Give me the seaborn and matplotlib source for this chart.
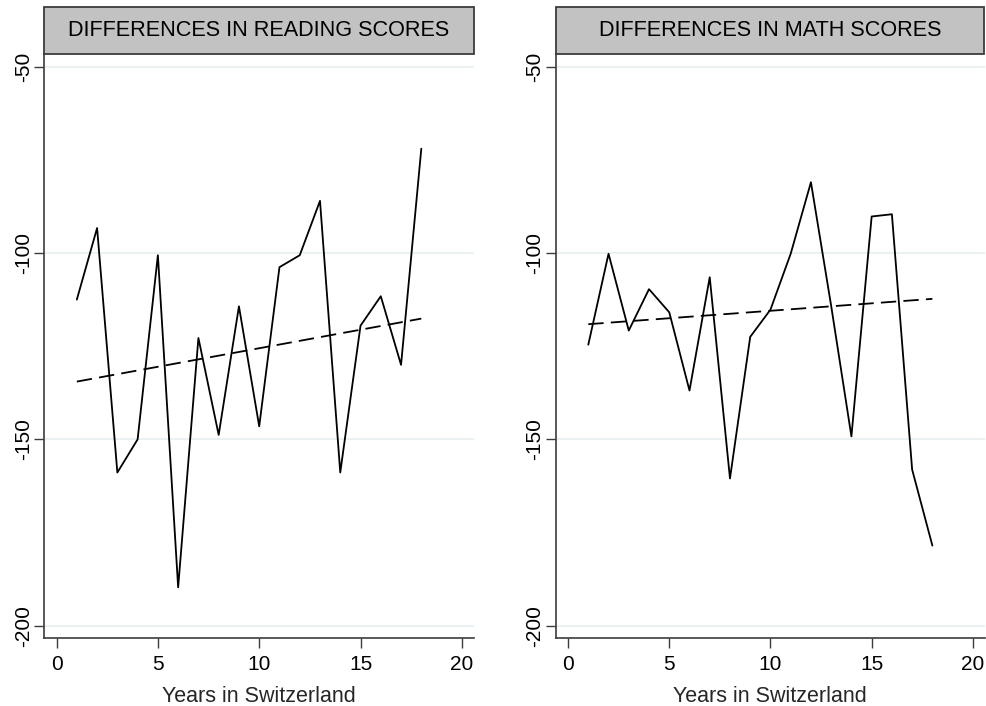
import matplotlib
matplotlib.use("Agg")
import matplotlib.pyplot as plt
import seaborn as sns
import pandas as pd
from matplotlib.patches import Rectangle

years = list(range(1, 19))
reading_diff = [-112.5, -93.3, -158.9, -150.0, -100.6, -189.7, -122.8, -148.8, -114.3,
                -146.5, -103.8, -100.6, -86.0, -158.9, -119.5, -111.6, -130.0, -72.0]
math_diff = [-124.6, -100.2, -120.8, -109.7, -115.9, -136.9, -106.5, -160.5, -122.5,
             -115.2, -100.2, -81.0, -114.2, -149.2, -90.2, -89.6, -158.1, -178.5]
fit_years = [1, 18]
reading_fit = [-134.5, -117.6]
math_fit = [-119.1, -112.3]
titles = ["DIFFERENCES IN READING SCORES", "DIFFERENCES IN MATH SCORES"]
x_ticks = [0, 5, 10, 15, 20]
y_ticks = [-200, -150, -100, -50]
x_label = "Years in Switzerland"

sns.set_style("white")
plt.rcParams["font.family"] = ["Liberation Sans", "DejaVu Sans"]

W, H = 986, 706
fig = plt.figure(figsize=(W / 100, H / 100), dpi=100)

def fx(px):
    return px / W

def fy(py):
    return 1 - py / H

panels = [
    (44, 474, reading_diff, reading_fit, titles[0]),
    (555.5, 985, math_diff, math_fit, titles[1]),
]
top_px, bot_px, title_top_px = 54, 638, 7
spine_col = "#3c3c3c"

for left, right, vals, fit, title in panels:
    ax = fig.add_axes([fx(left), fy(bot_px), fx(right - left), (bot_px - top_px) / H])
    df = pd.DataFrame({"year": years, "diff": vals})
    dff = pd.DataFrame({"year": fit_years, "fit": fit})
    sns.lineplot(data=df, x="year", y="diff", ax=ax, color="black", linewidth=1.3, zorder=3)
    sns.lineplot(data=dff, x="year", y="fit", ax=ax, color="black", linewidth=1.3,
                 dashes=False, zorder=3)
    ax.lines[-1].set_dashes((8.5, 4))
    ax.set_xlim(-0.62, 20.6)
    ax.set_ylim(-203.3, -46.6)
    ax.set_xticks(x_ticks)
    ax.set_yticks(y_ticks)
    ax.set_yticklabels([str(v) for v in y_ticks], rotation=90, va="center")
    for v in y_ticks:
        ax.axhline(v, color="#eaf1f2", linewidth=1.4, zorder=1)
    ax.tick_params(axis="both", direction="out", length=7, width=1, color=spine_col,
                   labelsize=15, labelcolor="black", pad=5, left=True, bottom=True)
    ax.tick_params(axis="y", pad=1)
    for s in ["top", "right"]:
        ax.spines[s].set_visible(False)
    for s in ["left", "bottom"]:
        ax.spines[s].set_color(spine_col)
        ax.spines[s].set_linewidth(1.2)
    ax.set_xlabel(x_label, fontsize=15.5, labelpad=9)
    ax.set_ylabel("")
    ax.grid(False)
    # title strip
    rect = Rectangle((fx(left), fy(top_px)), fx(right - left) - (1 / W if right >= 985 else 0),
                     (top_px - title_top_px) / H, transform=fig.transFigure,
                     facecolor="#c2c2c2", edgecolor=spine_col, linewidth=1.3)
    fig.patches.append(rect)
    fig.text(fx((left + right) / 2), fy((top_px + title_top_px) / 2 + 0.5), title,
             ha="center", va="center", fontsize=15.6, color="black")

fig.savefig("out.png", dpi=100)
